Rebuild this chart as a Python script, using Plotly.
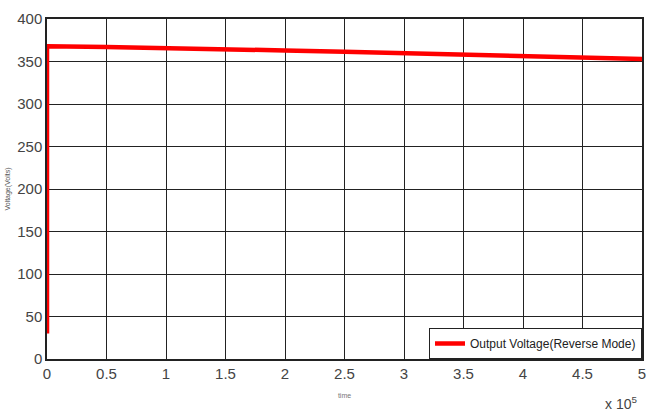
import plotly.graph_objects as go

time_s = [0, 0, 50000, 100000, 150000, 200000, 250000, 300000, 350000, 400000, 450000, 500000]
voltage = [30, 368, 367, 366, 364.5, 363, 361.5, 360, 358.5, 357, 355, 353]

x_tick_vals = [0, 50000, 100000, 150000, 200000, 250000, 300000, 350000, 400000, 450000, 500000]
x_tick_text = ["0", "0.5", "1", "1.5", "2", "2.5", "3", "3.5", "4", "4.5", "5"]
y_tick_vals = [0, 50, 100, 150, 200, 250, 300, 350, 400]

font_fam = "Liberation Sans Narrow, Liberation Sans, Arial, sans-serif"

fig = go.Figure()
fig.add_trace(go.Scatter(
    x=time_s, y=voltage, mode="lines",
    line=dict(color="#ff0000", width=4.5),
    name="Output Voltage(Reverse Mode)",
    cliponaxis=False,
))

fig.update_layout(
    width=647, height=413,
    margin=dict(l=47, r=1, t=19, b=54),
    paper_bgcolor="white", plot_bgcolor="white",
    font=dict(family=font_fam, color="#444444", size=15),
    showlegend=True,
    legend=dict(
        x=1, y=0, xanchor="right", yanchor="bottom",
        bgcolor="white", bordercolor="#222222", borderwidth=1,
        font=dict(size=12, family=font_fam, color="#222222"),
        itemwidth=30,
    ),
)
fig.update_xaxes(
    range=[0, 500000], tickvals=x_tick_vals, ticktext=x_tick_text,
    ticklabeloverflow="allow",
    showgrid=True, gridcolor="#222222", gridwidth=1,
    showline=True, linecolor="#222222", linewidth=1.5, mirror=True,
    ticks="", zeroline=False,
    title=dict(text="time", font=dict(size=7, color="#777777"), standoff=12),
)
fig.update_yaxes(
    range=[0, 400], tickvals=y_tick_vals,
    showgrid=True, gridcolor="#222222", gridwidth=1,
    showline=True, linecolor="#222222", linewidth=1.5, mirror=True,
    ticks="", zeroline=False,
    title=dict(text="Voltage(Volts)", font=dict(size=7, color="#555555"), standoff=6),
)
fig.add_annotation(
    x=1, y=0, xref="paper", yref="paper", xanchor="right", yanchor="top",
    xshift=-3, yshift=-33, showarrow=False,
    text="x 10<sup>5</sup>", font=dict(size=14, family=font_fam, color="#444444"),
)

fig.write_html("out.html")
